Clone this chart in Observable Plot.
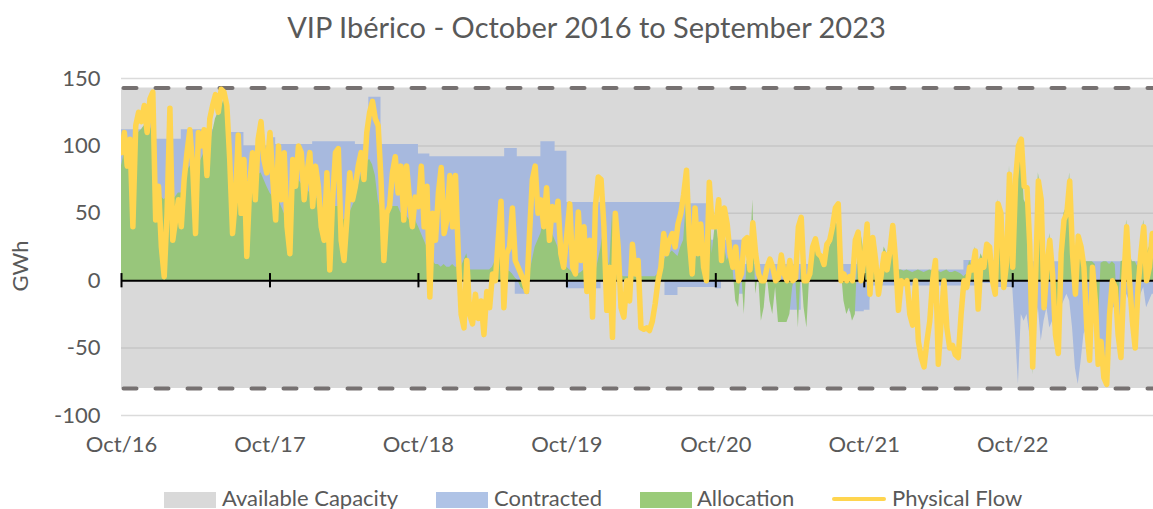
<!DOCTYPE html>
<html><head><meta charset="utf-8">
<script src="https://cdn.jsdelivr.net/npm/d3@7"></script>
<script src="https://cdn.jsdelivr.net/npm/@observablehq/plot@0.6"></script>
<style>
body{margin:0;width:1153px;height:509px;overflow:hidden;position:relative;background:#fff;font-family:Lato,sans-serif;color:#595959}
#title{position:absolute;left:10px;width:1153px;top:12px;text-align:center;font-size:29px;line-height:29px;white-space:nowrap}
#chart{position:absolute;left:0;top:60px}
#ylab{position:absolute;left:20px;top:266px;transform:translate(-50%,-50%) rotate(-90deg);font-size:22px;line-height:22px;white-space:nowrap}
.leg{position:absolute;font-size:22px;line-height:22px;top:487px;white-space:nowrap}
.sw{position:absolute;top:492px;height:16px;width:52px}
</style></head><body>
<div id="title">VIP Ibérico - October 2016 to September 2023</div>
<div id="ylab">GWh</div>
<div id="chart"></div>
<div class="sw" style="left:164px;background:#d9d9d9"></div><div class="leg" style="left:222px">Available Capacity</div>
<div class="sw" style="left:436px;background:#afc3e6"></div><div class="leg" style="left:494px">Contracted</div>
<div class="sw" style="left:640px;background:#9acb79"></div><div class="leg" style="left:697px">Allocation</div>
<div class="sw" style="left:832px;top:497px;height:4px;width:54px;border-radius:2px;background:#ffd54f"></div><div class="leg" style="left:892px">Physical Flow</div>
<script>
// ---- data ----
const tickDates = ["2016-10-01","2017-10-01","2018-10-01","2019-10-01","2020-10-01","2021-10-01","2022-10-01"];
const tickLabels = ["Oct/16","Oct/17","Oct/18","Oct/19","Oct/20","Oct/21","Oct/22"];
const yTicks = [-100,-50,0,50,100,150];
const yearStarts = ["2016-10-01","2017-10-01","2018-10-01","2019-10-01","2020-10-01","2021-10-01","2022-10-01"];

const capacityDates = ["2016-10-01","2023-09-30"];
const capacityUpper = [143,143];
const capacityLower = [-80,-80];

const contractedPosDates = ["2016-10-01","2016-12-10","2016-12-24","2017-02-25","2017-06-24","2017-07-29","2017-10-01","2017-10-15","2018-01-14","2018-04-29","2018-06-01","2018-07-01","2018-10-01","2018-10-29","2019-05-01","2019-06-01","2019-07-29","2019-09-02","2019-10-01","2020-07-21","2020-09-08","2020-12-10","2021-10-01","2022-06-03","2022-10-01","2023-09-30"];
const contractedPosValues = [112,117,105,112,110,100,106,101,103,101,136,101,94,92,98,92,103,96,58,57,30,12,8,15,14,14];

const contractedNegDates = ["2016-10-01","2019-05-27","2019-07-01","2019-10-01","2019-12-24","2020-05-29","2020-06-30","2020-10-01","2020-10-15","2020-11-19","2020-12-10","2021-04-01","2021-04-29","2021-08-26","2021-10-01","2021-10-15","2022-07-08","2022-08-12","2022-10-01"];
const contractedNegValues = [0,-10,0,-6,0,-11,-5,-6,0,-10,0,-22,0,-23,-22,-4,-2,-5,0];

// weekly contracted (negative side) Oct 2022 - Sep 2023
const contractedNeg22 = [-5,-40,-77,-25,-30,-25,-40,-50,-35,-20,-45,-30,-20,-35,-30,-45,-40,-20,-15,-10,-15,-35,-65,-77,-60,-40,-35,-50,-25,-35,-50,-45,-55,-60,-30,-20,-20,-30,-35,-20,-10,-15,-25,-30,-20,-10,-5,-20,-15,-10,-10];

// weekly allocation, one array per gas year (Oct-Sep)
const alloc16 = [85,95,100,105,105,108,110,112,115,110,115,110,65,60,62,60,62,65,60,62,65,65,70,80,85,80,75,85,90,95,90,100,110,120,125,128,135,128,85,75,70,80,72,70,65,72,75,72,78,80,75,70];
const alloc17 = [65,62,55,60,55,50,48,45,60,70,75,72,70,68,65,66,62,60,55,52,50,48,50,55,55,50,45,48,50,55,60,70,78,85,88,90,86,78,60,50,45,50,52,55,55,55,50,52,48,45,50,45];
const alloc18 = [40,35,30,25,20,15,12,12,10,12,10,10,12,10,10,10,15,20,8,8,8,8,8,8,8,8,10,15,12,55,8,7,7,5,2,0,-5,-7,-5,5,15,25,30,35,45,50,40,35,30,25,15,10];
const alloc19 = [10,8,6,5,5,6,8,10,8,5,5,15,25,40,20,10,50,8,5,4,3,3,3,3,3,3,3,3,3,3,3,3,5,10,15,18,20,22,20,18,25,30,60,20,18,15,20,40,18,15,70,20];
const alloc20 = [45,30,20,25,15,20,10,-15,-20,10,-25,15,10,60,-10,5,-30,-20,5,-15,-25,-5,-31,-31,-31,-31,-25,-5,5,-35,10,-20,-35,5,20,25,20,18,15,20,25,30,45,40,10,-15,-25,-20,-30,-25,25,35];
const alloc21 = [20,35,-15,25,10,-10,10,25,20,25,35,20,8,8,7,8,7,6,7,8,7,6,7,8,7,6,7,6,7,8,6,6,7,6,5,3,5,15,10,25,10,20,15,25,20,10,5,60,45,10,20,85];
const alloc22 = [20,80,105,100,60,55,-30,-70,20,80,65,-15,15,35,10,-35,-50,25,50,55,80,25,-5,35,30,14,14,14,14,12,-40,13,14,14,12,14,12,-30,14,15,45,20,14,14,10,25,45,20,25,35,25];

// weekly physical flow, one array per gas year (Oct-Sep)
const flow16 = [95,110,85,105,40,115,125,118,130,110,135,140,45,70,25,3,50,128,30,45,60,40,75,95,112,85,35,110,100,112,78,120,130,138,125,142,140,130,90,35,60,108,50,90,18,70,95,60,105,118,90,80];
const flow17 = [110,75,45,100,60,95,40,20,90,70,100,95,60,80,95,55,85,70,40,30,80,8,60,95,98,30,15,45,80,60,70,85,95,75,110,125,133,120,115,75,15,50,55,80,92,65,85,45,85,60,40,62];
const flow18 = [55,85,40,70,-12,50,30,65,84,35,45,78,40,78,20,-25,-35,15,-25,-32,-10,-28,-15,-40,-8,-20,5,0,30,59,-20,20,25,54,15,10,5,0,-8,35,75,85,50,60,40,69,30,55,45,59,20,10];
const flow19 = [35,57,10,5,51,15,40,-8,30,-27,55,77,75,40,-22,10,-42,50,25,-20,-27,0,-15,27,5,15,-35,-36,-35,-37,-30,-17,0,10,35,20,30,35,25,42,50,64,82,30,5,54,20,42,10,0,73,40];
const flow20 = [40,60,15,54,42,20,10,25,0,5,30,32,8,43,20,5,0,0,10,16,10,0,2,19,5,0,15,0,2,40,47,0,0,5,25,31,20,18,12,27,30,40,54,57,0,5,0,3,0,30,36,0];
const flow21 = [17,42,-10,32,15,-10,5,20,8,22,41,15,-22,0,-2,0,-25,-33,0,-45,-57,-64,-45,-30,0,15,-62,-30,0,-35,-50,-48,-55,-57,-25,0,-5,10,8,22,-21,15,10,27,25,0,-10,57,50,-5,14,79];
const flow22 = [10,75,100,105,70,69,25,-64,0,74,60,-20,10,30,5,-40,-54,20,45,50,74,20,-10,33,25,10,-35,-59,10,-15,-62,-45,-72,-77,-25,0,-5,-40,-57,0,40,0,-30,-50,-5,20,40,0,10,35,25];

// ---- build tables ----
const DAY = 864e5;
const parse = s => new Date(s + "T00:00:00Z");
function weekly(arrs, starts) {
  const out = [];
  arrs.forEach((a, k) => {
    const s = parse(starts[k]).getTime();
    a.forEach((v, w) => out.push({date: new Date(s + 7 * w * DAY), value: v}));
  });
  return out;
}
const flow = weekly([flow16, flow17, flow18, flow19, flow20, flow21, flow22], yearStarts);
const alloc = weekly([alloc16, alloc17, alloc18, alloc19, alloc20, alloc21, alloc22], yearStarts);
const negWeekly = weekly([contractedNeg22], ["2022-10-01"]);
const capacity = capacityDates.map((d, i) => ({date: parse(d), hi: capacityUpper[i], lo: capacityLower[i]}));
const cPos = contractedPosDates.map((d, i) => ({date: parse(d), value: contractedPosValues[i]}));
const cNeg = contractedNegDates.map((d, i) => ({date: parse(d), value: contractedNegValues[i]}));
const ticks = tickDates.map(parse);

const BLUE = "#a7b9de", GREEN = "#98c67b", YELLOW = "#ffd54f", GRAY = "#d9d9d9", DASH = "#767171";

const chart = Plot.plot({
  width: 1153, height: 400,
  marginLeft: 121, marginRight: 0, marginTop: 18, marginBottom: 45,
  style: {fontFamily: "Lato, sans-serif", fontSize: "22px", color: "#595959", background: "transparent"},
  x: {type: "utc", domain: [parse("2016-10-01"), parse("2023-09-12")], label: null},
  y: {domain: [-100, 150], label: null},
  marks: [
    Plot.ruleY(yTicks.filter(v => v !== 0), {stroke: "#b0b0b0", strokeOpacity: 0.45, strokeWidth: 1.5}),
    Plot.areaY(capacity, {x: "date", y1: "lo", y2: "hi", fill: GRAY, clip: true}),
    Plot.ruleY(yTicks.filter(v => v !== 0 && v > -80 && v < 143), {stroke: "#b0b0b0", strokeOpacity: 0.45, strokeWidth: 1.5}),
    Plot.areaY(cPos, {x: "date", y: "value", curve: "step-after", fill: BLUE, clip: true}),
    Plot.areaY(cNeg, {x: "date", y: "value", curve: "step-after", fill: BLUE, clip: true}),
    Plot.areaY(negWeekly, {x: "date", y: "value", fill: BLUE, clip: true}),
    Plot.areaY(alloc, {x: "date", y: "value", fill: GREEN, clip: true}),
    Plot.lineY(capacity, {x: "date", y: "hi", stroke: DASH, strokeWidth: 4, strokeDasharray: "13,19", strokeDashoffset: -2, strokeLinecap: "round", clip: true}),
    Plot.lineY(capacity, {x: "date", y: "lo", stroke: DASH, strokeWidth: 4, strokeDasharray: "13,19", strokeDashoffset: -2, strokeLinecap: "round", clip: true}),
    Plot.ruleY([0], {stroke: "#000", strokeWidth: 2}),
    Plot.ruleX(ticks, {y1: -5.3, y2: 5.3, stroke: "#000", strokeWidth: 2}),
    Plot.lineY(flow, {x: "date", y: "value", stroke: YELLOW, strokeWidth: 5.5, strokeLinejoin: "round", strokeLinecap: "round", clip: true}),
    Plot.axisY({ticks: yTicks, tickSize: 0, tickPadding: 21, label: null, tickFormat: d => String(d)}),
    Plot.axisX({ticks: ticks, tickSize: 0, tickPadding: 21, label: null, tickFormat: d => tickLabels[ticks.findIndex(t => +t === +d)]})
  ]
});
document.getElementById("chart").appendChild(chart);
</script>
</body></html>
